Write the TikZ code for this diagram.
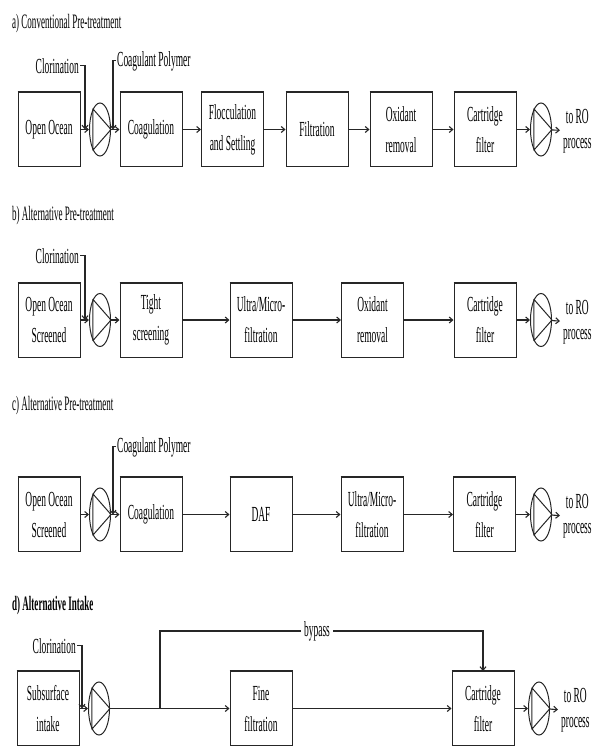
\documentclass[tikz,border=0pt]{standalone}
\usepackage{fontspec}
\setmainfont{Liberation Serif}
\usetikzlibrary{arrows.meta,shapes.geometric}
% narrow (condensed) text
\newcommand{\nw}[1]{\scalebox{0.44}[1]{#1}}
\tikzset{
  stage/.style={draw=black!85, line width=1pt, minimum width=62pt, minimum height=74pt,
    inner sep=0pt, align=center, font=\fontsize{21.5}{31}\selectfont},
  pumpsym/.style={draw=black!85, line width=1pt, ellipse, minimum width=21pt,
    minimum height=53pt, inner sep=0pt},
  flow/.style={draw=black!85, line width=1.1pt, -{Straight Barb[length=3.5pt,width=6pt]}},
  plain/.style={draw=black!85, line width=1.1pt},
  lbl/.style={inner sep=0pt, inner xsep=1pt, font=\fontsize{21.5}{25}\selectfont, align=center},
  ttl/.style={anchor=base west, inner sep=0pt, font=\fontsize{20.5}{22}\selectfont},
}
\begin{document}
\begin{tikzpicture}[x=1pt, y=-1pt]
\useasboundingbox (0,0) rectangle (601,747);

% ---------------- a) conventional pre-treatment
\node[ttl] (ta) at (12,28) {\nw{a) Conventional Pre-treatment}};
\node[stage] (a1) at (49,129.5) {\nw{Open Ocean}};
\node[pumpsym] (ap1) at (100,129.5) {};
\node[stage] (a2) at (151,129.5) {\nw{Coagulation}};
\node[stage] (a3) at (232.5,129.5) {\nw{Flocculation}\\\nw{and Settling}};
\node[stage] (a4) at (317,129.5) {\nw{Filtration}};
\node[stage] (a5) at (401,129.5) {\nw{Oxidant}\\\nw{removal}};
\node[stage] (a6) at (485,129.5) {\nw{Cartridge}\\\nw{filter}};
\node[pumpsym] (ap2) at (541,129.5) {};
\node[lbl, anchor=west, inner xsep=3pt] (aro) at (560,131) {\nw{to RO}\\\nw{process}};
\node[lbl, anchor=base east] (acl) at (80,73) {\nw{Clorination}};
\node[lbl, anchor=base west] (acp) at (116,66) {\nw{Coagulant Polymer}};
\coordinate (aj1) at (85,129.5);
\coordinate (aj2) at (113,129.5);
\draw[flow] (acl.east) -| (aj1);
\draw[flow] (acp.west) -| (aj2);
\draw[flow] (a1) -- (ap1);
\draw[flow] (ap1) -- (a2);
\draw[flow] (a2) -- (a3);
\draw[flow] (a3) -- (a4);
\draw[flow] (a4) -- (a5);
\draw[flow] (a5) -- (a6);
\draw[flow] (a6) -- (ap2);
\draw[flow] (ap2) -- (aro);

% ---------------- b) alternative pre-treatment
\node[ttl] (tb) at (12,220) {\nw{b) Alternative Pre-treatment}};
\node[stage] (b1) at (49,320) {\nw{Open Ocean}\\\nw{Screened}};
\node[pumpsym] (bp1) at (100,320) {};
\node[stage] (b2) at (151,320) {\nw{Tight}\\\nw{screening}};
\node[stage] (b3) at (261,320) {\nw{Ultra/Micro-}\\\nw{filtration}};
\node[stage] (b4) at (372.5,320) {\nw{Oxidant}\\\nw{removal}};
\node[stage] (b5) at (485,320) {\nw{Cartridge}\\\nw{filter}};
\node[pumpsym] (bp2) at (541,320) {};
\node[lbl, anchor=west, inner xsep=3pt] (bro) at (560,322) {\nw{to RO}\\\nw{process}};
\node[lbl, anchor=base east] (bcl) at (80,263) {\nw{Clorination}};
\coordinate (bj1) at (85,320);
\draw[flow] (bcl.east) -| (bj1);
\draw[flow] (b1) -- (bp1);
\draw[flow] (bp1) -- (b2);
\draw[flow] (b2) -- (b3);
\draw[flow] (b3) -- (b4);
\draw[flow] (b4) -- (b5);
\draw[flow] (b5) -- (bp2);
\draw[flow] (bp2) -- (bro);

% ---------------- c) alternative pre-treatment
\node[ttl] (tc) at (12,410) {\nw{c) Alternative Pre-treatment}};
\node[stage] (c1) at (49,514.5) {\nw{Open Ocean}\\\nw{Screened}};
\node[pumpsym] (cp1) at (100,514.5) {};
\node[stage] (c2) at (151,514.5) {\nw{Coagulation}};
\node[stage] (c3) at (261,514.5) {\nw{DAF}};
\node[stage] (c4) at (372,514.5) {\nw{Ultra/Micro-}\\\nw{filtration}};
\node[stage] (c5) at (484.5,514.5) {\nw{Cartridge}\\\nw{filter}};
\node[pumpsym] (cp2) at (541,514.5) {};
\node[lbl, anchor=west, inner xsep=3pt] (cro) at (560,516.5) {\nw{to RO}\\\nw{process}};
\node[lbl, anchor=base west] (ccp) at (116,452) {\nw{Coagulant Polymer}};
\coordinate (cj2) at (113,514.5);
\draw[flow] (ccp.west) -| (cj2);
\draw[flow] (c1) -- (cp1);
\draw[flow] (cp1) -- (c2);
\draw[flow] (c2) -- (c3);
\draw[flow] (c3) -- (c4);
\draw[flow] (c4) -- (c5);
\draw[flow] (c5) -- (cp2);
\draw[flow] (cp2) -- (cro);

% ---------------- d) alternative intake
\node[ttl] (td) at (12,610) {\bfseries\nw{d) Alternative Intake}};
\node[stage] (d1) at (48,708.5) {\nw{Subsurface}\\\nw{intake}};
\node[pumpsym] (dp1) at (99,708.5) {};
\node[stage] (d2) at (261,708.5) {\nw{Fine}\\\nw{filtration}};
\node[stage] (d3) at (483,708.5) {\nw{Cartridge}\\\nw{filter}};
\node[pumpsym] (dp2) at (539,708.5) {};
\node[lbl, anchor=west, inner xsep=3pt] (dro) at (558,710.5) {\nw{to RO}\\\nw{process}};
\node[lbl, anchor=base east] (dcl) at (77,653) {\nw{Clorination}};
\coordinate (dj1) at (82,708.5);
\draw[flow] (dcl.east) -| (dj1);
\draw[flow] (d1) -- (dp1);
\draw[flow] (dp1) -- (d2);
\draw[flow] (d2) -- (d3);
\draw[flow] (d3) -- (dp2);
\draw[flow] (dp2) -- (dro);
% bypass branch
\coordinate (dbr) at (160,708.5);
\node[lbl, inner xsep=3pt] (dby) at (317,631) {\nw{bypass}};
\draw[plain] (dbr) |- (dby.west);
\draw[flow] (dby.east) -| (d3.north);

% pump symbols: triangle inside each casing
\foreach \p in {ap1,ap2,bp1,bp2,cp1,cp2,dp1,dp2}
  \draw[black!85, line width=1pt, line join=round] (\p.109) -- (\p.east) -- (\p.251) -- cycle;

% heavier top edge on each process box
\foreach \b in {a1,a2,a3,a4,a5,a6,b1,b2,b3,b4,b5,c1,c2,c3,c4,c5,d1,d2,d3}
  \draw[black!85, line width=1.6pt] (\b.north west) -- (\b.north east);
\end{tikzpicture}
\end{document}
